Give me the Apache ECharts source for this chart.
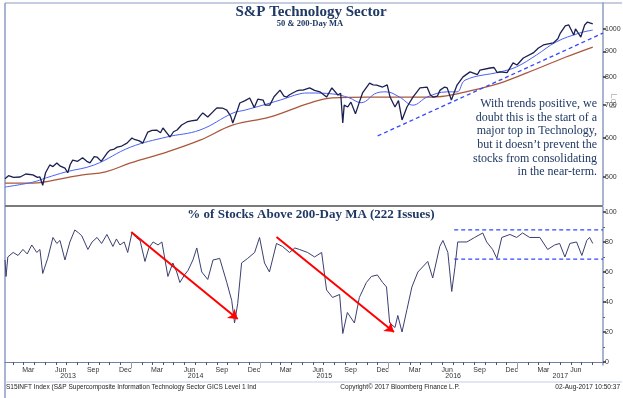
<!DOCTYPE html>
<html><head><meta charset="utf-8">
<script src="https://cdn.jsdelivr.net/npm/echarts@6/dist/echarts.min.js"></script>
<style>html,body{margin:0;padding:0;background:#fff}#c{width:623px;height:398px}</style>
</head><body><div id="c"></div>
<script>
// ---- data ----
const priceDates = ['2013-01-08','2013-01-18','2013-02-01','2013-02-20','2013-03-08','2013-03-28','2013-04-10','2013-04-17','2013-04-25','2013-05-03',
'2013-05-15','2013-05-24','2013-06-04','2013-06-14','2013-06-27','2013-07-05','2013-07-12','2013-07-19','2013-08-02','2013-08-16',
'2013-08-28','2013-09-06','2013-09-18','2013-09-26','2013-10-08','2013-10-13','2013-10-25','2013-11-02','2013-11-14','2013-11-22',
'2013-12-05','2013-12-20','2014-01-03','2014-01-10','2014-01-17','2014-01-24','2014-02-03','2014-02-17','2014-03-01','2014-03-14',
'2014-03-25','2014-04-01','2014-04-14','2014-04-21','2014-05-01','2014-05-11','2014-05-24','2014-06-08','2014-06-20','2014-07-07',
'2014-07-15','2014-07-23','2014-08-06','2014-08-22','2014-09-01','2014-09-18','2014-09-29','2014-10-10','2014-10-16','2014-10-28',
'2014-11-05','2014-11-20','2014-12-03','2014-12-16','2014-12-26','2015-01-10','2015-01-16','2015-01-29','2015-02-10','2015-02-27',
'2015-03-10','2015-03-18','2015-03-26','2015-04-04','2015-04-15','2015-04-24','2015-05-03','2015-05-22','2015-06-05','2015-06-20',
'2015-07-09','2015-07-24','2015-08-10','2015-08-18','2015-08-24','2015-08-28','2015-09-07','2015-09-16','2015-09-29','2015-10-10',
'2015-10-19','2015-11-08','2015-11-18','2015-11-28','2015-12-15','2015-12-28','2016-01-05','2016-01-19','2016-01-29','2016-02-08',
'2016-02-22','2016-03-10','2016-03-30','2016-04-19','2016-04-28','2016-05-06','2016-05-18','2016-05-26','2016-06-08','2016-06-15',
'2016-06-27','2016-07-13','2016-07-30','2016-08-19','2016-09-09','2016-09-16','2016-10-15','2016-10-26','2016-11-04','2016-11-12',
'2016-12-02','2016-12-19','2016-12-30','2017-01-17','2017-02-14','2017-03-01','2017-03-15','2017-04-12','2017-04-25','2017-05-02',
'2017-05-16','2017-05-26','2017-06-09','2017-06-14','2017-06-20','2017-06-29','2017-07-10','2017-07-18','2017-08-02'];
const priceValues = [496,503,499,500,507,505,499,500,481,510,
529,525,534,526,521,510,530,541,538,547,
538,534,550,549,538,541,560,567,570,575,
578,586,600,596,594,592,586,617,622,623,
615,629,612,603,618,623,638,647,650,653,
665,675,662,680,691,690,684,665,644,680,
707,715,724,692,720,717,700,700,728,751,
730,727,735,741,748,751,751,759,750,745,
727,759,734,740,644,700,694,710,672,710,
741,776,770,769,762,770,727,694,715,653,
694,727,759,762,735,727,730,751,762,759,
717,769,799,818,808,825,833,835,815,818,
815,853,845,873,894,915,928,937,955,981,
1015,1019,972,1000,986,963,1019,1033,1024];

const ma50Dates = ['2013-01-08','2013-03-28','2013-05-05','2013-06-30','2013-09-18','2013-12-30','2014-04-12','2014-07-15','2014-10-17','2014-11-20',
'2015-02-28','2015-04-24','2015-05-22','2015-07-25','2015-09-10','2015-10-15','2015-11-28','2015-12-25','2016-02-01','2016-03-10',
'2016-04-19','2016-06-15','2016-07-13','2016-08-05','2016-11-12','2016-12-28','2017-02-23','2017-04-20','2017-06-25','2017-08-02'];
const ma50Values = [477,488,498,512,529,575,603,623,675,684,
717,738,741,738,725,708,741,745,727,700,
727,745,745,787,818,837,885,941,981,995];

const ma200Dates = ['2013-01-08','2013-03-28','2013-06-30','2013-08-16','2013-10-20','2013-12-30','2014-04-12','2014-07-15','2014-10-17','2015-01-28',
'2015-05-22','2015-07-25','2015-11-03','2016-02-01','2016-05-06','2016-07-13','2016-09-24','2016-11-12','2017-01-27','2017-05-18','2017-08-02'];
const ma200Values = [486,486,498,505,512,534,562,594,638,662,
707,724,727,727,727,738,759,776,814,877,919];

const pctDates = ['2013-01-08','2013-01-11','2013-01-16','2013-01-31','2013-02-14','2013-02-28','2013-03-12','2013-03-25','2013-04-08','2013-04-17',
'2013-04-25','2013-05-09','2013-05-24','2013-06-04','2013-06-13','2013-06-27','2013-07-11','2013-07-25','2013-08-05','2013-08-14',
'2013-08-31','2013-09-12','2013-09-26','2013-10-09','2013-10-24','2013-11-10','2013-11-20','2013-11-30','2013-12-12','2013-12-22',
'2014-01-03','2014-01-15','2014-01-26','2014-02-09','2014-02-20','2014-03-04','2014-03-18','2014-03-29','2014-04-15','2014-04-29',
'2014-05-10','2014-05-19','2014-06-01','2014-06-11','2014-06-25','2014-07-06','2014-07-20','2014-08-06','2014-08-21','2014-09-09',
'2014-09-29','2014-10-13','2014-10-21','2014-10-30','2014-11-10','2014-11-27','2014-12-17','2014-12-31','2015-01-14','2015-01-28',
'2015-02-17','2015-03-06','2015-03-26','2015-04-10','2015-04-23','2015-05-16','2015-06-05','2015-06-25','2015-07-09','2015-07-26',
'2015-08-15','2015-08-24','2015-09-06','2015-09-26','2015-10-10','2015-10-30','2015-11-13','2015-11-30','2015-12-15','2015-12-26',
'2016-01-04','2016-01-19','2016-01-27','2016-02-08','2016-02-22','2016-03-07','2016-03-24','2016-04-21','2016-05-05','2016-05-25',
'2016-06-03','2016-06-17','2016-06-28','2016-07-07','2016-07-15','2016-08-10','2016-09-01','2016-09-24','2016-10-05','2016-10-22',
'2016-11-03','2016-11-17','2016-12-10','2016-12-29','2017-01-15','2017-02-04','2017-03-05','2017-03-27','2017-04-16','2017-04-30',
'2017-05-15','2017-05-29','2017-06-17','2017-07-02','2017-07-16','2017-07-24','2017-08-02'];
const pctValues = [68,57,70,73,71,75,72,78,73,75,
59,69,83,79,81,68,80,88,86,84,
75,80,83,79,85,77,82,78,80,73,
86,83,81,67,76,80,78,80,57,66,
60,53,58,61,68,76,60,55,68,69,
53,41,26,39,66,69,73,83,66,60,
79,77,73,76,75,73,70,73,48,43,
45,19,33,26,43,53,57,58,53,50,
26,23,31,20,35,50,60,67,56,77,
81,73,47,63,80,80,83,86,80,75,
69,83,85,83,86,83,83,75,78,79,
70,79,80,71,81,83,79];

const priceTickLabels = [500,600,700,800,900,1000];
const pctTickLabels = [0,20,40,60,80,100];
const pctMinorTicks = [10,30,50,70,90];
const monthNames = ['Jan','Feb','Mar','Apr','May','Jun','Jul','Aug','Sep','Oct','Nov','Dec'];
const labelledMonths = [2,5,8,11];
const years = [2013,2014,2015,2016,2017];

// annotations
const trendDates = ['2015-12-01','2017-08-31'];
const trendValues = [606,981];
const rangeDates = ['2016-07-05','2017-08-31'];
const rangeHigh = 88, rangeLow = 68.5;
const arrowStarts = [['2014-01-01',86.7],['2015-02-17',83.3]];
const arrowEnds = [['2014-10-30',28.7],['2016-01-16',20]];

// ---- build ----
const ts = d => Date.parse(d);
const zip = (ds, vs) => ds.map((d,i)=>[ts(d), vs[i]]);
const X0 = Date.UTC(2013,0,8), X1 = Date.UTC(2017,7,31);
const TOPMIN = 438.5, TOPMAX = 1129.5, PMIN = -2, PMAX = 103.3;
const monthTicks=[], monthLabelPos=[], yearTicks=[], yearLabelPos=[];
years.forEach(y=>{
  for(let m=0;m<12;m++){const t=Date.UTC(y,m,1); if(t>=X0&&t<=X1) monthTicks.push(t);}
  labelledMonths.forEach(m=>{const t=Date.UTC(y,m,15); if(t>=X0&&t<=X1) monthLabelPos.push(t);});
  if(y>years[0]) yearTicks.push(Date.UTC(y,0,1));
  const s=Math.max(Date.UTC(y,0,1),X0), e=Math.min(Date.UTC(y+1,0,1),X1);
  yearLabelPos.push((s+e)/2);
});

const NAVY = '#1f3864';
const AXC = '#8d9cc0';
const SANS = 'Liberation Sans';
const SERIF = 'Liberation Serif';
const small = {fontSize:7, color:'#333', fontFamily:SANS};

const chart = echarts.init(document.getElementById('c'), null, {renderer:'canvas'});
chart.setOption({
  animation:false,
  backgroundColor:'#fff',
  grid:[
    {left:5, right:20, top:3, height:202, outerBoundsMode:'none'},
    {left:5, right:20, top:207, height:158, outerBoundsMode:'none'}
  ],
  xAxis:[
    {gridIndex:0, type:'value', min:X0, max:X1, show:false},
    {gridIndex:1, type:'value', min:X0, max:X1, position:'bottom',
      axisLine:{show:true, lineStyle:{color:'#6f7fa6', width:1}},
      axisTick:{show:true, customValues:monthTicks, length:3, lineStyle:{color:'#555'}},
      axisLabel:{customValues:monthLabelPos, formatter:v=>monthNames[new Date(v).getUTCMonth()], margin:2, ...small},
      splitLine:{show:false}},
    {gridIndex:1, type:'value', min:X0, max:X1, position:'bottom', offset:7,
      axisLine:{show:false},
      axisTick:{show:true, customValues:yearTicks, length:6, lineStyle:{color:'#999'}},
      axisLabel:{customValues:yearLabelPos, formatter:v=>String(new Date(v).getUTCFullYear()), margin:1, ...small},
      splitLine:{show:false}}
  ],
  yAxis:[
    {gridIndex:0, type:'log', logBase:10, min:TOPMIN, max:TOPMAX, position:'right',
      axisLine:{show:true, lineStyle:{color:AXC, width:1.5}}, axisTick:{show:false}, axisLabel:{show:false}, splitLine:{show:false}},
    {gridIndex:0, type:'value', min:Math.log10(TOPMIN), max:Math.log10(TOPMAX), position:'right',
      axisLine:{show:false},
      axisTick:{show:true, customValues:priceTickLabels.map(Math.log10), length:3, lineStyle:{color:'#333', width:1.5}},
      axisLabel:{customValues:priceTickLabels.map(Math.log10), formatter:v=>String(Math.round(Math.pow(10,v))), margin:2, ...small},
      splitLine:{show:false}},
    {gridIndex:1, type:'value', min:PMIN, max:PMAX, position:'right',
      axisLine:{show:true, lineStyle:{color:AXC, width:1.5}},
      axisTick:{show:true, customValues:pctTickLabels, length:3, lineStyle:{color:'#333', width:1.5}},
      axisLabel:{customValues:pctTickLabels, margin:2, ...small},
      splitLine:{show:false}},
    {gridIndex:1, type:'value', min:PMIN, max:PMAX, position:'right',
      axisLine:{show:false},
      axisTick:{show:true, customValues:pctMinorTicks, length:2, lineStyle:{color:'#666', width:1}},
      axisLabel:{show:false}, splitLine:{show:false}}
  ],
  series:[
    {name:'200-Day MA', type:'line', xAxisIndex:0, yAxisIndex:0, data:zip(ma200Dates, ma200Values), smooth:0.4, symbol:'none',
      lineStyle:{color:'#a9583c', width:1.3}, z:3},
    {name:'50-Day MA', type:'line', xAxisIndex:0, yAxisIndex:0, data:zip(ma50Dates, ma50Values), smooth:0.4, symbol:'none',
      lineStyle:{color:'#4a60f5', width:1}, z:4},
    {name:'S&P Technology', type:'line', xAxisIndex:0, yAxisIndex:0, data:zip(priceDates, priceValues), symbol:'none',
      lineStyle:{color:'#1b2050', width:1.3}, z:5},
    {name:'Trend', type:'line', xAxisIndex:0, yAxisIndex:0, data:zip(trendDates, trendValues), symbol:'none',
      lineStyle:{color:'#3347ff', width:1.3, type:[4,3]}, z:6},
    {name:'% Above 200-Day', type:'line', xAxisIndex:1, yAxisIndex:2, data:zip(pctDates, pctValues), symbol:'none',
      lineStyle:{color:'#3a4070', width:1}, z:5},
    {name:'Range High', type:'line', xAxisIndex:1, yAxisIndex:2, data:rangeDates.map(d=>[ts(d), rangeHigh]), symbol:'none',
      lineStyle:{color:'#3347ff', width:1.2, type:[4,3]}, z:4},
    {name:'Range Low', type:'line', xAxisIndex:1, yAxisIndex:2, data:rangeDates.map(d=>[ts(d), rangeLow]), symbol:'none',
      lineStyle:{color:'#3347ff', width:1.2, type:[4,3]}, z:4},
    {name:'Arrows', type:'lines', coordinateSystem:'cartesian2d', xAxisIndex:1, yAxisIndex:2,
      data:arrowStarts.map((s,i)=>({coords:[[ts(s[0]),s[1]],[ts(arrowEnds[i][0]),arrowEnds[i][1]]]})),
      symbol:['none','arrow'], symbolSize:[0,9], lineStyle:{color:'#ff0000', width:2, opacity:1}, z:7}
  ],
  graphic:[
    {type:'line', shape:{x1:5,y1:3,x2:5,y2:398}, style:{stroke:'#8b9dc3', lineWidth:1.5}, silent:true},
    {type:'line', shape:{x1:5,y1:3,x2:622,y2:3}, style:{stroke:'#8b9dc3', lineWidth:1}, silent:true},
    {type:'line', shape:{x1:5,y1:206,x2:603,y2:206}, style:{stroke:'#7a7a7a', lineWidth:2}, silent:true},
    {type:'line', shape:{x1:5,y1:382,x2:622,y2:382}, style:{stroke:'#c3cde3', lineWidth:1}, silent:true},
    {type:'text', x:311, y:12, style:{text:'S&P Technology Sector', textAlign:'center', textVerticalAlign:'middle', font:'bold 15px "Liberation Serif"', fill:NAVY}},
    {type:'text', x:310, y:24, style:{text:'50 & 200-Day MA', textAlign:'center', textVerticalAlign:'middle', font:'bold 8.5px "Liberation Serif"', fill:NAVY}},
    {type:'text', x:311, y:215, style:{text:'% of Stocks Above 200-Day MA (222 Issues)', textAlign:'center', textVerticalAlign:'middle', font:'bold 13px "Liberation Serif"', fill:NAVY}},
    ...['With trends positive, we','doubt this is the start of a','major top in Technology,','but it doesn\u2019t prevent the','stocks from consolidating','in the near-term.'].map((t,i)=>(
      {type:'text', x:597, y:104+i*13.65, style:{text:t, textAlign:'right', textVerticalAlign:'middle', font:'12px "Liberation Serif"', fill:NAVY}})),
    {type:'text', x:613, y:101, rotation:-Math.PI/2, style:{text:'Log', textAlign:'center', textVerticalAlign:'middle', font:'9px "Liberation Sans"', fill:'#b0b0b0'}},
    {type:'text', x:6, y:387, style:{text:'S15INFT Index (S&P Supercomposite Information Technology Sector GICS Level 1 Ind', textAlign:'left', textVerticalAlign:'middle', font:'6.5px "Liberation Sans"', fill:'#222'}},
    {type:'text', x:400, y:387, style:{text:'Copyright\u00a9 2017 Bloomberg Finance L.P.', textAlign:'center', textVerticalAlign:'middle', font:'6.5px "Liberation Sans"', fill:'#222'}},
    {type:'text', x:620, y:387, style:{text:'02-Aug-2017 10:50:37', textAlign:'right', textVerticalAlign:'middle', font:'6.5px "Liberation Sans"', fill:'#222'}}
  ]
});
</script></body></html>
